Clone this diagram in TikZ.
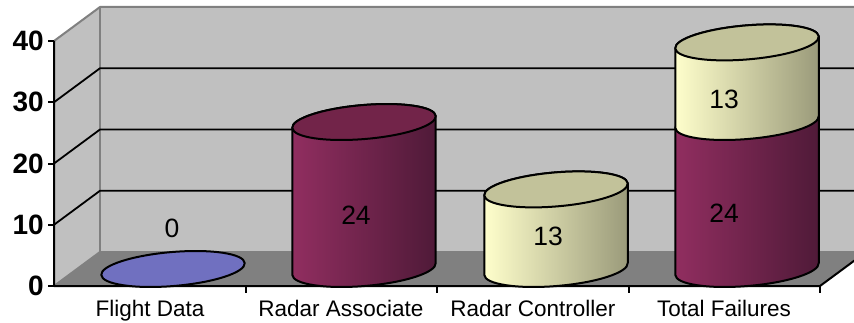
\documentclass[tikz,border=0pt]{standalone}
\usepackage{fontspec}
\setmainfont{Liberation Sans}

\definecolor{wallgray}{HTML}{C0C0C0}
\definecolor{floorgray}{HTML}{808080}
\definecolor{plumlight}{HTML}{912E60}
\definecolor{plummid}{HTML}{7A2852}
\definecolor{plumdark}{HTML}{4F1A38}
\definecolor{plumtop}{HTML}{722449}
\definecolor{creamlight}{HTML}{FFFFCC}
\definecolor{creammid}{HTML}{D8D8AE}
\definecolor{creamdark}{HTML}{9A9A7A}
\definecolor{creamtop}{HTML}{C2C29A}
\definecolor{discblue}{HTML}{7070C0}

\tikzset{
  walledge/.style={draw=floorgray,line width=2pt},
  gridline/.style={draw=black,line width=1.8pt},
  axisline/.style={draw=black,line width=2pt},
  cylline/.style={draw=black,line width=2pt},
  plumbody/.style={cylline,left color=plumlight,middle color=plummid,right color=plumdark},
  creambody/.style={cylline,left color=creamlight,middle color=creammid,right color=creamdark},
  ticklbl/.style={anchor=east,inner sep=0pt,font=\fontsize{28}{30}\selectfont\bfseries},
  catlbl/.style={anchor=base,inner sep=0pt,font=\fontsize{22.5}{26}\selectfont},
  vallbl/.style={inner sep=0pt,font=\fontsize{26.5}{30}\selectfont}
}

\begin{document}
\begin{tikzpicture}[x=1pt,y=1pt,line join=round]
\useasboundingbox (0,0) rectangle (854,322);
\clip (0,0) rectangle (854,322);

% Walls and floor
\fill[wallgray] (54,36) -- (54,281) -- (100,315) -- (100,70) -- cycle;
\fill[wallgray] (100,70) rectangle (870,315);
\fill[floorgray] (54,36) -- (820,36) -- (866,70) -- (100,70) -- cycle;
\draw[walledge] (54,36) -- (100,70) -- (870,70);
\draw[walledge] (54,281) -- (100,315) -- (870,315);
\draw[walledge] (100,70) -- (100,315);

% Gridlines
\foreach \k in {1,2,3}
  \draw[gridline] (54,36+61.25*\k) -- (100,70+61.25*\k) -- (870,70+61.25*\k);

% Floor front and value axis
\draw[axisline] (54,281) -- (54,36) -- (820,36) -- (866,70);
\foreach \v [count=\k from 0] in {0,10,20,30,40} {
  \draw[axisline] (48,36+61.25*\k) -- (54,36+61.25*\k);
  \node[ticklbl] (tick\v) at (44,36+61.25*\k) {\v};
}

% Category ticks and labels
\foreach \x in {245.5,437,628.5,820}
  \draw[axisline] (\x,36) -- (\x,29);
\node[catlbl] (catflight) at (150,6) {Flight Data};
\node[catlbl] (catassoc) at (341,6) {Radar Associate};
\node[catlbl] (catctrl) at (533,6) {Radar Controller};
\node[catlbl] (cattotal) at (724,6) {Total Failures};

% Flight Data
\begin{scope}[shift={(173,53)},rotate=4.8]
\filldraw[cylline,fill=discblue] (0,0) ellipse[x radius=72,y radius=17];
\end{scope}

% Radar Associate
\begin{scope}[shift={(364,53)},rotate=4.8]
\path[plumbody] (-72,0) arc[start angle=180,end angle=360,x radius=72,y radius=17]
  -- ++(85.2:147) arc[start angle=0,end angle=180,x radius=72,y radius=17] -- cycle;
\filldraw[cylline,fill=plumtop] (85.2:147) ellipse[x radius=72,y radius=17];
\end{scope}

% Radar Controller
\begin{scope}[shift={(556,53)},rotate=4.8]
\path[creambody] (-72,0) arc[start angle=180,end angle=360,x radius=72,y radius=17]
  -- ++(85.2:79.6) arc[start angle=0,end angle=180,x radius=72,y radius=17] -- cycle;
\filldraw[cylline,fill=creamtop] (85.2:79.6) ellipse[x radius=72,y radius=17];
\end{scope}

% Total Failures
\begin{scope}[shift={(747,53)},rotate=4.8]
\path[plumbody] (-72,0) arc[start angle=180,end angle=360,x radius=72,y radius=17]
  -- ++(85.2:147) arc[start angle=0,end angle=180,x radius=72,y radius=17] -- cycle;
\end{scope}
\begin{scope}[shift={(747,200)},rotate=4.8]
\path[creambody] (-72,0) arc[start angle=180,end angle=360,x radius=72,y radius=17]
  -- ++(85.2:79.6) arc[start angle=0,end angle=180,x radius=72,y radius=17] -- cycle;
\filldraw[cylline,fill=creamtop] (85.2:79.6) ellipse[x radius=72,y radius=17];
\end{scope}

% Value labels
\node[vallbl] (valflight) at (172,94) {0};
\node[vallbl] (valassoc) at (356,107) {24};
\node[vallbl] (valctrl) at (548,86) {13};
\node[vallbl] (valtotalb) at (724,109) {24};
\node[vallbl] (valtotalt) at (724,223) {13};
\end{tikzpicture}
\end{document}
